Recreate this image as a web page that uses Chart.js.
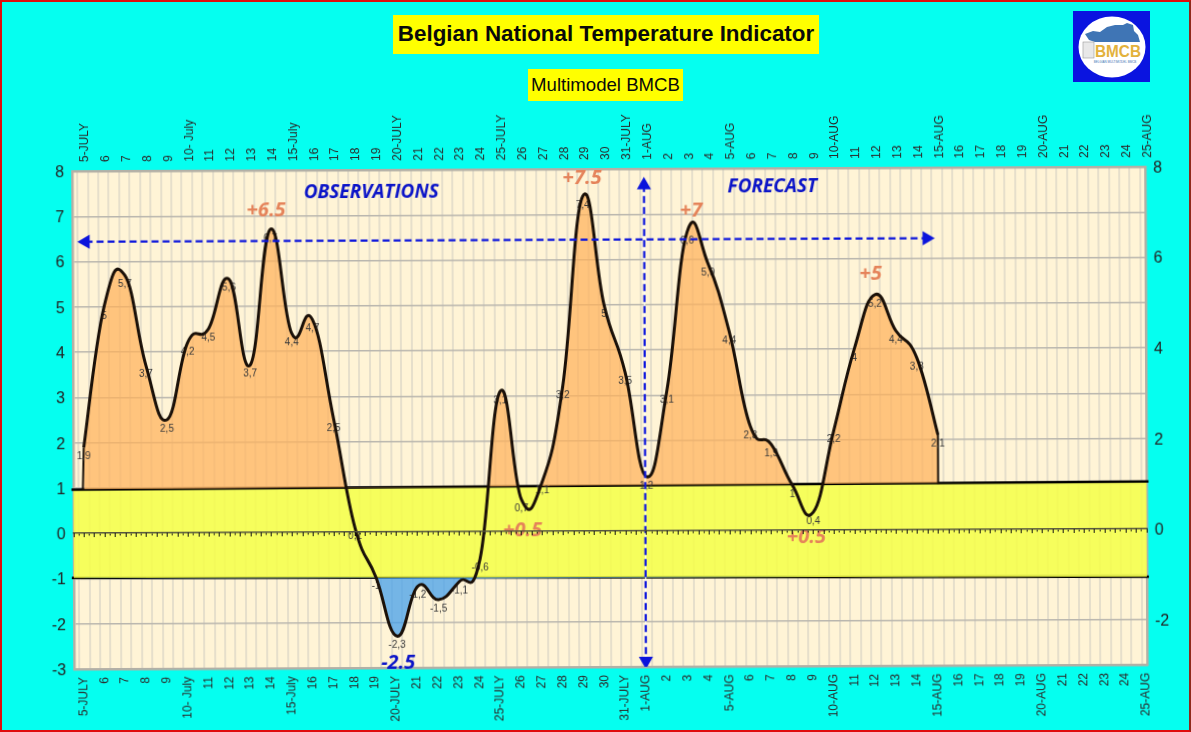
<!DOCTYPE html>
<html>
<head>
<meta charset="utf-8">
<title>Belgian National Temperature Indicator</title>
<script src="https://cdn.jsdelivr.net/npm/chart.js@4/dist/chart.umd.min.js"></script>
<style>
html, body { margin: 0; padding: 0; background: #05fff0; overflow: hidden; }
#page { position: relative; width: 1191px; height: 732px; overflow: hidden; font-family: "Liberation Sans", Arial, sans-serif; }
#myChart { position: absolute; left: 0; top: 0; transform: rotate(-0.24deg); }
#frame { position: absolute; left: 0; top: 0; width: 1191px; height: 732px; box-sizing: border-box; border: 2px solid #e00d0d; border-right-color: #8f2a1c; pointer-events: none; }
.box { position: absolute; background: #ffff00; text-align: center; color: #0a0a0a; white-space: nowrap; }
#title { left: 393px; top: 15px; width: 426px; height: 39px; line-height: 38px; font-size: 22.4px; font-weight: bold; }
#subtitle { left: 528px; top: 69px; width: 155px; height: 32px; line-height: 32px; font-size: 18.6px; }
#logo { position: absolute; left: 1073px; top: 11px; width: 77px; height: 71px; }
</style>
</head>
<body>
<div id="page">
    <canvas id="myChart" width="1191" height="732"></canvas>
    <div class="box" id="title">Belgian National Temperature Indicator</div>
    <div class="box" id="subtitle">Multimodel BMCB</div>
    <svg id="logo" viewBox="0 0 77 71">
        <rect width="77" height="71" fill="#0a14e0"/>
        <ellipse cx="39" cy="36" rx="33.5" ry="30.5" fill="#fff"/>
        <path d="M12 23 L20 20 L27 21 L34 16 L42 14 L50 14 L54 12 L60 14 L61 20 L65 24 L67 31 L22 31 L16 29 Z" fill="#3f75b5"/>
        <rect x="10" y="31" width="11" height="16" fill="#e8e8e8" stroke="#999" stroke-width="0.6"/>
        <text x="45" y="46" text-anchor="middle" font-family="Liberation Sans" font-weight="bold" font-size="16" textLength="46" lengthAdjust="spacingAndGlyphs" fill="#e3b23c">BMCB</text>
        <text x="42" y="52" text-anchor="middle" font-family="Liberation Sans" font-size="3" fill="#3f75b5">BELGIAN MULTIMODEL BMCB</text>
    </svg>
    <div id="frame"></div>
</div>
<script>
// day labels, 5 July to 25 Aug
var dayLabels = ['5-JULY','6','7','8','9','10- July','11','12','13','14','15-July','16','17','18','19','20-JULY','21','22','23','24','25-JULY','26','27','28','29','30','31-JULY',
    '1-AUG','2','3','4','5-AUG','6','7','8','9','10-AUG','11','12','13','14','15-AUG','16','17','18','19','20-AUG','21','22','23','24','25-AUG'];

// daily anomaly, 5 July to 15 Aug
var anomaly = [1.9,5,5.7,3.7,2.5,4.2,4.5,5.6,3.7,6.7,4.4,4.7,2.5,0.1,-1,-2.3,-1.2,-1.5,-1.1,-0.6,3.1,0.7,1.1,3.2,7.4,5,3.5,
    1.2,3.1,6.6,5.9,4.4,2.3,1.9,1,0.4,2.2,4,5.2,4.4,3.8,2.1];

var leftTicks = [8,7,6,5,4,3,2,1,0,-1,-2,-3];
var rightTicks = [8,6,4,2,0,-2];

// the two black limits of the normal band
var bandX = [-0.6, 51.1];
var bandUpper = [0.967, 1.046];
var bandLower = [-0.987, -1.055];

var obsForecastX = [0.13, 40.5];
var obsForecastY = [6.44, 6.44];
var todayX = [26.94, 26.94];
var todayY = [7.64, -2.87];

var notes = [
    { text: 'OBSERVATIONS', x: 13.85, y: 7.55, color: '#0b14c8', size: 19 },
    { text: 'FORECAST', x: 33.1, y: 7.63, color: '#0b14c8', size: 19 },
    { text: '+7.5', x: 23.97, y: 7.84, color: '#e5835a', size: 20 },
    { text: '+7', x: 29.2, y: 7.1, color: '#e5835a', size: 20 },
    { text: '+6.5', x: 8.8, y: 7.15, color: '#e5835a', size: 20 },
    { text: '+5', x: 37.8, y: 5.69, color: '#e5835a', size: 20 },
    { text: '+0.5', x: 21.05, y: 0.07, color: '#e5835a', size: 20 },
    { text: '+0.5', x: 34.66, y: -0.12, color: '#e5835a', size: 20 },
    { text: '-2.5', x: 15.05, y: -2.85, color: '#0b14c8', size: 20 }
];

function toPoints(xs, ys) {
    return xs.map(function(x, i) { return { x: x, y: ys[i] }; });
}

var curvePoints = anomaly.map(function(v, i) { return { x: i, y: v }; });
var dropPoints = [
    { x: 0, y: anomaly[0] }, { x: -0.05, y: bandUpper[0] }, { x: null, y: null },
    { x: anomaly.length - 1, y: anomaly[anomaly.length - 1] }, { x: anomaly.length - 1, y: 1.01 }
];

// labels on whole days, grid lines on the quarter days either side
var labelTicks = [], gridTicks = [], zeroTicks = [], zeroLongTicks = [];
for (var d = 0; d <= 51; d++) labelTicks.push({ value: d });
for (var q = -0.25; q <= 51; q += 0.5) { gridTicks.push({ value: q }); }
for (var k = 0; k <= 51; k++) gridTicks.push({ value: k });
gridTicks.sort(function(a, b) { return a.value - b.value; });
for (var z = -0.5; z <= 51; z += 0.25) zeroTicks.push({ value: z });
for (var h = -0.5; h <= 51; h += 0.5) zeroLongTicks.push({ value: h });

var CURVE = 3, FILL_UP = 5, FILL_DOWN = 6, UPPER = 7, LOWER = 8;
var SMOOTH = 0.22;

var plotBack = {
    id: 'plotBack',
    beforeDraw: function(chart) {
        var a = chart.chartArea;
        chart.ctx.save();
        chart.ctx.fillStyle = '#fff4d6';
        chart.ctx.fillRect(a.left, a.top, a.right - a.left, a.bottom - a.top);
        chart.ctx.restore();
    }
};

// chart.js weights the handles by segment length, the spreadsheet curve does not
var evenSpline = {
    id: 'evenSpline',
    afterDatasetsUpdate: function(chart) {
        [CURVE, FILL_UP, FILL_DOWN].forEach(function(idx) {
            var meta = chart.getDatasetMeta(idx);
            meta.dataset.updateControlPoints(chart.chartArea, 'x');
            var pts = meta.data;
            for (var i = 0; i < pts.length; i++) {
                var prev = pts[Math.max(i - 1, 0)], next = pts[Math.min(i + 1, pts.length - 1)];
                var dx = (next.x - prev.x) * SMOOTH, dy = (next.y - prev.y) * SMOOTH;
                pts[i].cp1x = pts[i].x - dx;
                pts[i].cp1y = pts[i].y - dy;
                pts[i].cp2x = pts[i].x + dx;
                pts[i].cp2y = pts[i].y + dy;
            }
        });
    }
};

// value labels go under the curve line, notes on top of everything
var texts = {
    id: 'texts',
    beforeDatasetDraw: function(chart, args) {
        if (args.index !== CURVE) return;
        var ctx = chart.ctx;
        ctx.save();
        ctx.font = '10px "Liberation Sans"';
        ctx.fillStyle = '#3a3a3a';
        ctx.textAlign = 'center';
        ctx.textBaseline = 'middle';
        anomaly.forEach(function(v, i) {
            ctx.fillText(String(v).replace('.', ','), chart.scales.x.getPixelForValue(i), chart.scales.y.getPixelForValue(v) + 9);
        });
        ctx.restore();
    },
    afterDatasetsDraw: function(chart) {
        var ctx = chart.ctx;
        ctx.save();
        ctx.textAlign = 'center';
        ctx.textBaseline = 'middle';
        notes.forEach(function(n) {
            ctx.font = 'italic bold ' + n.size + 'px "Open Sans"';
            ctx.fillStyle = n.color;
            ctx.fillText(n.text, chart.scales.x.getPixelForValue(n.x), chart.scales.y.getPixelForValue(n.y) + 2);
        });
        ctx.restore();
    }
};

var ctx = document.getElementById('myChart').getContext('2d');
var myChart = new Chart(ctx, {
    type: 'line',
    data: {
        datasets: [
            { data: toPoints(obsForecastX, obsForecastY), borderColor: '#0b14dc', borderWidth: 2.2, borderDash: [7, 4], pointStyle: 'triangle',
              pointRadius: 6, pointRotation: [-90, 90], pointBackgroundColor: '#0b14dc', pointBorderColor: '#0b14dc', fill: false },
            { data: toPoints(todayX, todayY), borderColor: '#0b14dc', borderWidth: 2.2, borderDash: [7, 4], pointStyle: 'triangle',
              pointRadius: 6, pointRotation: [0, 180], pointBackgroundColor: '#0b14dc', pointBorderColor: '#0b14dc', fill: false },
            { data: toPoints(todayX, todayY), borderColor: 'rgba(255,255,255,0.8)', borderWidth: 1.5, pointRadius: 0, fill: false },
            { data: curvePoints, borderColor: '#1a1008', borderWidth: 3, tension: 0.5, pointRadius: 0, fill: false },
            { data: dropPoints, borderColor: '#1a1008', borderWidth: 2, pointRadius: 0, tension: 0, fill: false, spanGaps: false },
            { data: curvePoints, borderWidth: 0, borderColor: 'transparent', tension: 0.5, pointRadius: 0,
              fill: { target: UPPER, above: 'rgba(255,178,90,0.72)', below: 'transparent' } },
            { data: curvePoints, borderWidth: 0, borderColor: 'transparent', tension: 0.5, pointRadius: 0,
              fill: { target: LOWER, above: 'transparent', below: 'rgba(70,160,235,0.75)' } },
            { data: toPoints(bandX, bandUpper), borderColor: '#000', borderWidth: 2.5, pointRadius: 0, clip: false,
              fill: { target: LOWER, above: 'rgba(245,255,70,0.85)', below: 'rgba(245,255,70,0.85)' } },
            { data: toPoints(bandX, bandLower), borderColor: '#000', borderWidth: 2.5, pointRadius: 0, clip: false, fill: false }
        ]
    },
    options: {
        responsive: false,
        animation: false,
        parsing: false,
        normalized: true,
        layout: { padding: 0 },
        plugins: { legend: { display: false }, tooltip: { enabled: false }, title: { display: false } },
        scales: {
            x: {
                type: 'linear', position: 'bottom', min: -0.5, max: 51,
                afterBuildTicks: function(s) { s.ticks = gridTicks.slice(); },
                afterFit: function(s) { s.height = 65; },
                grid: {
                    drawTicks: false,
                    lineWidth: 2,
                    color: function(c) { return c.tick && c.tick.value % 1 === 0 ? 'transparent' : '#e6dfcb'; }
                },
                border: { color: '#b3b0a6', width: 2.5 },
                ticks: {
                    autoSkip: false, minRotation: 90, maxRotation: 90, padding: 8, labelOffset: -1,
                    color: '#2a2a2a', font: { family: 'Liberation Sans', size: 12 },
                    callback: function(v) { return v % 1 === 0 ? dayLabels[v] : ''; }
                }
            },
            xTop: {
                type: 'linear', position: 'top', min: -0.5, max: 51,
                afterBuildTicks: function(s) { s.ticks = labelTicks.slice(); },
                afterFit: function(s) { s.height = 169; },
                grid: { drawOnChartArea: false, drawTicks: false },
                border: { color: '#b3b0a6', width: 2.5 },
                ticks: {
                    autoSkip: false, minRotation: 90, maxRotation: 90, padding: 9, labelOffset: 17,
                    color: '#2a2a2a', font: { family: 'Liberation Sans', size: 12 },
                    callback: function(v) { return dayLabels[v]; }
                }
            },
            xZero: {
                type: 'linear', axis: 'x', position: { y: 0 }, min: -0.5, max: 51,
                afterBuildTicks: function(s) { s.ticks = zeroTicks.slice(); },
                grid: { drawOnChartArea: false, tickLength: 2, tickColor: '#111', tickWidth: 1, z: 1 },
                border: { color: '#55553f', width: 1.5, z: 1 },
                ticks: { display: false, autoSkip: false }
            },
            xZeroLong: {
                type: 'linear', axis: 'x', position: { y: 0 }, min: -0.5, max: 51,
                afterBuildTicks: function(s) { s.ticks = zeroLongTicks.slice(); },
                grid: { drawOnChartArea: false, tickLength: 4, tickColor: '#111', tickWidth: 1, z: 1 },
                border: { display: false },
                ticks: { display: false, autoSkip: false }
            },
            y: {
                type: 'linear', position: 'left', min: -3, max: 8,
                afterBuildTicks: function(s) { s.ticks = leftTicks.map(function(v) { return { value: v }; }).reverse(); },
                afterFit: function(s) { s.width = 73; },
                grid: { color: '#b9b6ae', lineWidth: 1.5, drawTicks: false },
                border: { color: '#b3b0a6', width: 2.5 },
                ticks: { padding: 8, labelOffset: 1.5, color: '#222', font: { family: 'Liberation Sans', size: 16 } }
            },
            yRight: {
                type: 'linear', position: 'right', min: -3, max: 8,
                afterBuildTicks: function(s) { s.ticks = rightTicks.map(function(v) { return { value: v }; }).reverse(); },
                afterFit: function(s) { s.width = 45; },
                grid: { drawOnChartArea: false, drawTicks: false },
                border: { color: '#b3b0a6', width: 2.5 },
                ticks: { padding: 8, labelOffset: 1.5, color: '#222', font: { family: 'Liberation Sans', size: 16 } }
            }
        }
    },
    plugins: [plotBack, evenSpline, texts]
});
</script>
</body>
</html>
